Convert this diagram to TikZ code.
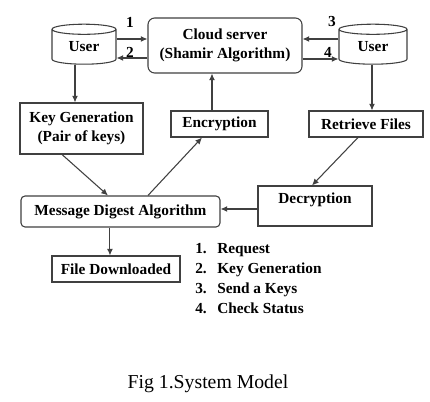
\documentclass[tikz,border=0pt]{standalone}
\usepackage{fontspec}
\setmainfont{Liberation Serif}
\usetikzlibrary{shapes.geometric,arrows.meta}
\begin{document}
\begin{tikzpicture}[x=0.75pt,y=-0.75pt,
  ln/.style={draw=black!75,line width=0.8pt},
  arr/.style={ln,-{Latex[length=5pt,width=4.5pt]}},
  bx/.style={ln,fill=white,inner sep=0pt,font=\fontsize{11.5}{14.5}\selectfont\bfseries,align=center},
  cyl/.style={bx,cylinder,shape border rotate=90,aspect=0.33,minimum height=30pt},
  lbl/.style={font=\fontsize{11.5}{14}\selectfont\bfseries,inner sep=0pt},
  leg/.style={lbl,anchor=base west}]
\useasboundingbox (0,0) rectangle (430,402);
% nodes
\node[cyl,minimum width=48pt] (u1) at (84,47) {\raisebox{-2pt}{User}};
\node[cyl,minimum width=51pt] (u2) at (373,47) {\raisebox{-2pt}{User}};
\node[bx,rounded corners=5pt,minimum width=115.5pt,minimum height=41.25pt] (cloud) at (225,45.5) {Cloud server\\(Shamir Algorithm)};
\node[bx,minimum width=92.25pt,minimum height=38.25pt] (kg) at (81.5,128.5) {Key Generation\\(Pair of keys)};
\node[bx,minimum width=72.75pt,minimum height=19.5pt] (enc) at (219.5,124) {Encryption};
\node[bx,minimum width=85.5pt,minimum height=19.5pt] (rf) at (366,124) {Retrieve Files};
\node[bx,rounded corners=3pt,minimum width=149.25pt,minimum height=23.25pt] (mda) at (120.5,211.5) {Message Digest Algorithm};
\node[bx,minimum width=85.5pt,minimum height=30pt] (dec) at (315,206) {};
\node[lbl] (dectxt) at ([yshift=4.5pt]dec.center) {Decryption};
\node[bx,minimum width=96pt,minimum height=19.5pt] (fd) at (116,269) {File Downloaded};
% arrows between users and cloud
\coordinate (a1) at ([yshift=6pt]u1.east);
\draw[arr] (a1) -- (a1 -| cloud.west);
\coordinate (a2) at ([yshift=-8.25pt]u1.east);
\draw[arr] (a2 -| cloud.west) -- (a2);
\coordinate (a3) at ([yshift=6pt]u2.west);
\draw[arr] (a3) -- (a3 -| cloud.east);
\coordinate (a4) at ([yshift=-9pt]u2.west);
\draw[arr] (a4 -| cloud.east) -- (a4);
\node[lbl] (n1) at (130,22) {1};
\node[lbl] (n2) at (130,52) {2};
\node[lbl] (n3) at (332,22) {3};
\node[lbl] (n4) at (328,52) {4};
% vertical connectors
\coordinate (b1) at ([xshift=-6.75pt]u1.south);
\draw[arr] (b1) -- (b1 |- kg.north);
\coordinate (b2) at ([xshift=-5.625pt]enc.north);
\draw[arr] (b2) -- (b2 |- cloud.south);
\coordinate (b3) at ([xshift=-0.75pt]u2.south);
\draw[arr] (b3) -- (b3 |- rf.north);
\draw[arr] ([xshift=-6pt]rf.south) -- ([xshift=-2.25pt]dec.north);
\draw[arr] ([xshift=-14.6pt]kg.south) -- ([xshift=-9.4pt]mda.north);
\draw[arr] ([xshift=20.6pt]mda.north) -- ([xshift=-13.1pt]enc.south);
\coordinate (b4) at ([yshift=-2.25pt]dec.west);
\draw[arr] (b4) -- (b4 -| mda.east);
\coordinate (b5) at ([xshift=-7.9pt]mda.south);
\draw[arr] (b5) -- (b5 |- fd.north);
% legend
\node[leg] (l1n) at (195,254) {1.};
\node[leg] (l1) at (217,254) {Request};
\node[leg] (l2n) at (195,274) {2.};
\node[leg] (l2) at (217,274) {Key Generation};
\node[leg] (l3n) at (195,294) {3.};
\node[leg] (l3) at (217,294) {Send a Keys};
\node[leg] (l4n) at (195,314) {4.};
\node[leg] (l4) at (217,314) {Check Status};
% caption
\node[font=\fontsize{14.8}{17}\selectfont,inner sep=0pt] (cap) at (208,384) {Fig 1.System Model};
\end{tikzpicture}
\end{document}
